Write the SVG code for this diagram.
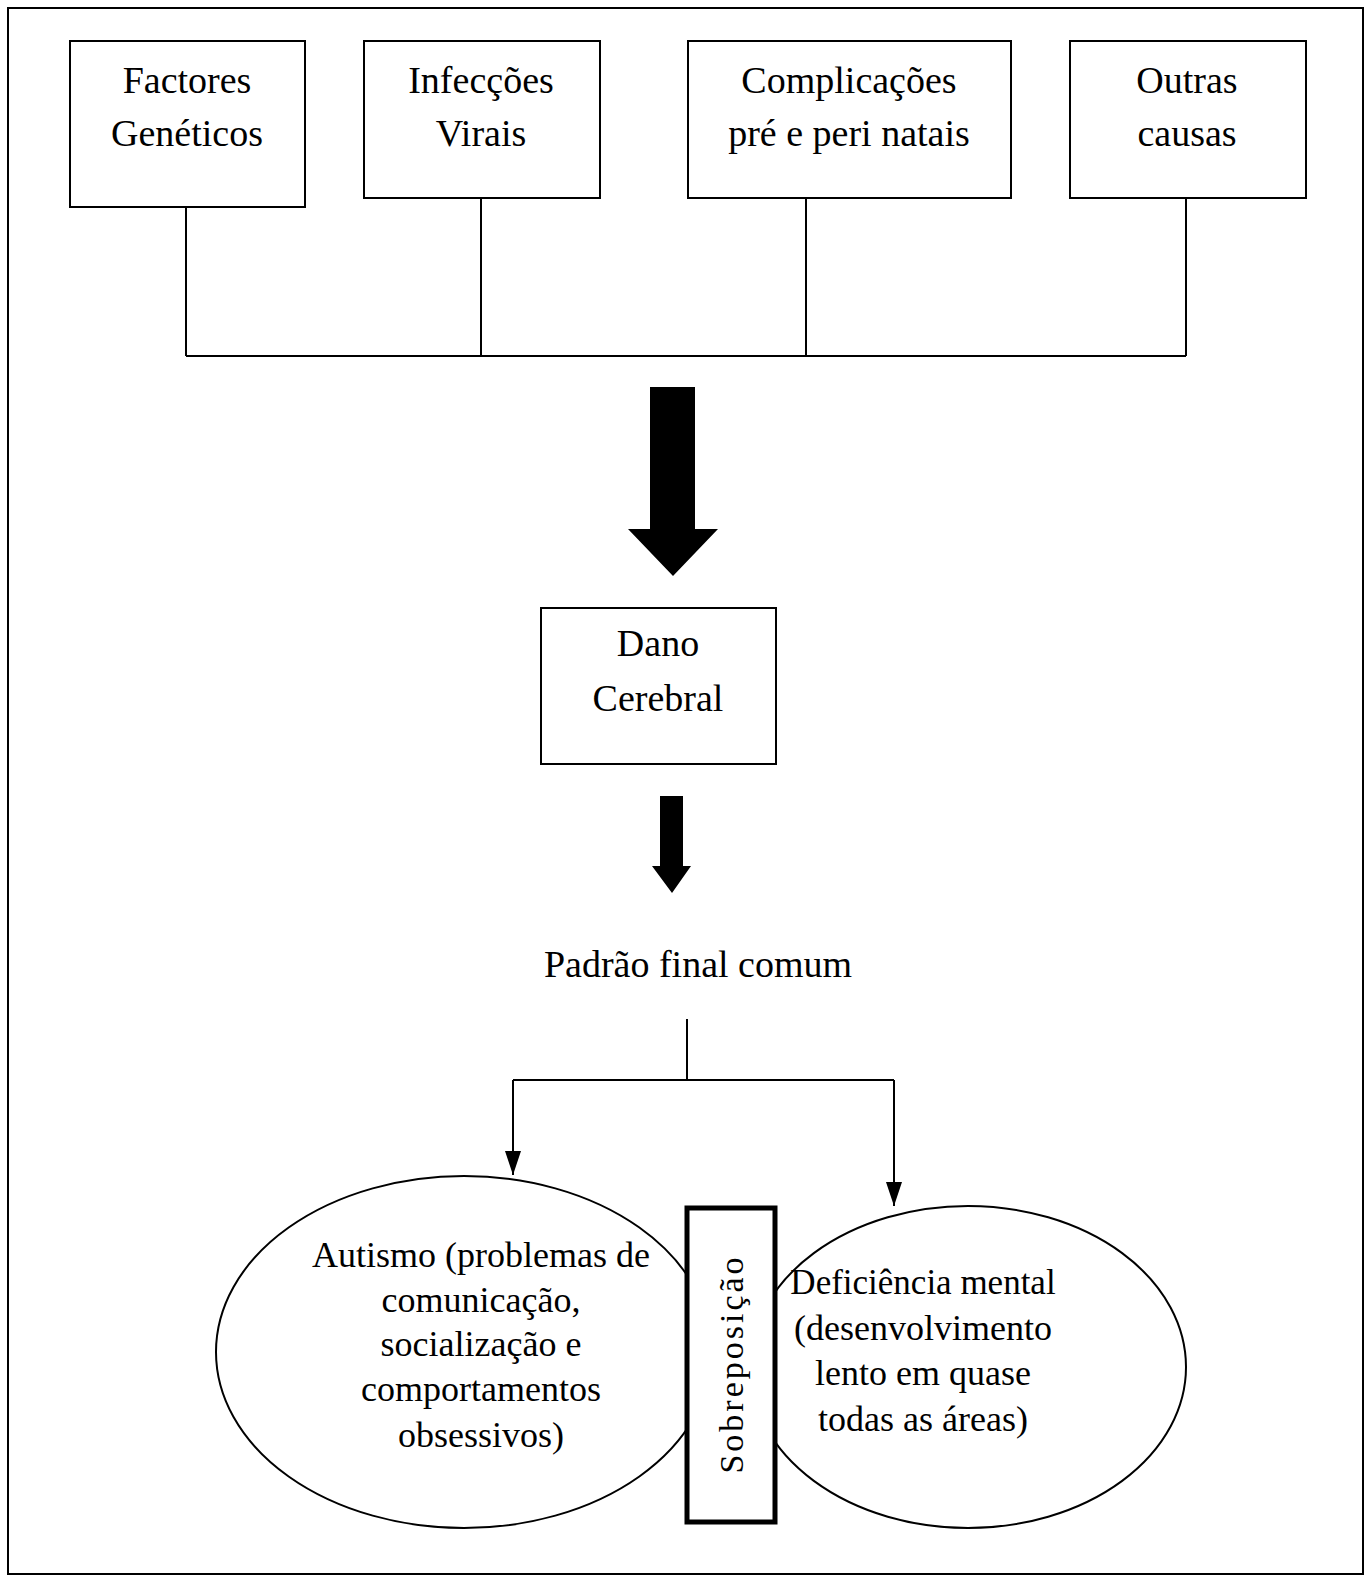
<svg xmlns="http://www.w3.org/2000/svg" width="1370" height="1580" viewBox="0 0 1370 1580">
<defs>
<style>
.box{fill:#fff;stroke:#000;stroke-width:2}
.t{font-family:"Liberation Serif","Times New Roman",serif;font-size:38px;fill:#000;text-anchor:middle}
.te{font-family:"Liberation Serif","Times New Roman",serif;font-size:36px;fill:#000;text-anchor:middle}
.ln{fill:none;stroke:#000;stroke-width:2}
.ell{fill:#fff;stroke:#000;stroke-width:2}
</style>
<marker id="ah" markerWidth="24" markerHeight="16" refX="24" refY="8" orient="auto" markerUnits="userSpaceOnUse" viewBox="0 0 24 16">
<path d="M0,0 L24,8 L0,16 Z" fill="#000"/>
</marker>
</defs>
<rect x="0" y="0" width="1370" height="1580" fill="#fff"/>
<rect x="8" y="8" width="1355" height="1566" fill="none" stroke="#000" stroke-width="2"/>

<g id="connectors">
<path class="ln" d="M186,208 V356 M481,198 V356 M806,198 V356 M1186,198 V356 M186,356 H1186"/>
<path d="M650,387 H695 V529 H718 L673,576 L628,529 H650 Z" fill="#000"/>
<path d="M660,796 H683 V866 H691 L672,893 L652,866 H660 Z" fill="#000"/>
<path class="ln" d="M687,1019 V1080 M513,1080 H894"/>
<path class="ln" d="M513,1080 V1175" marker-end="url(#ah)"/>
<path class="ln" d="M894,1080 V1206" marker-end="url(#ah)"/>
</g>

<g id="n-factores">
<rect class="box" x="70" y="41" width="235" height="166"/>
<text class="t" x="187" y="93">Factores</text>
<text class="t" x="187" y="146">Genéticos</text>
</g>
<g id="n-infeccoes">
<rect class="box" x="364" y="41" width="236" height="157"/>
<text class="t" x="481" y="93">Infecções</text>
<text class="t" x="481" y="146">Virais</text>
</g>
<g id="n-complicacoes">
<rect class="box" x="688" y="41" width="323" height="157"/>
<text class="t" x="849" y="93">Complicações</text>
<text class="t" x="849" y="146">pré e peri natais</text>
</g>
<g id="n-outras">
<rect class="box" x="1070" y="41" width="236" height="157"/>
<text class="t" x="1187" y="93">Outras</text>
<text class="t" x="1187" y="146">causas</text>
</g>
<g id="n-dano">
<rect class="box" x="541" y="608" width="235" height="156"/>
<text class="t" x="658" y="656">Dano</text>
<text class="t" x="658" y="711">Cerebral</text>
</g>
<g id="n-padrao">
<text class="t" x="698" y="977">Padrão final comum</text>
</g>
<g id="n-autismo">
<ellipse class="ell" cx="464" cy="1352" rx="248" ry="176"/>
<text class="te" x="481" y="1267">Autismo (problemas de</text>
<text class="te" x="481" y="1312">comunicação,</text>
<text class="te" x="481" y="1356">socialização e</text>
<text class="te" x="481" y="1401">comportamentos</text>
<text class="te" x="481" y="1447">obsessivos)</text>
</g>
<g id="n-deficiencia">
<ellipse class="ell" cx="968" cy="1367" rx="218" ry="161"/>
<text class="te" x="923" y="1294" style="font-size:35px">Deficiência mental</text>
<text class="te" x="923" y="1340">(desenvolvimento</text>
<text class="te" x="923" y="1385">lento em quase</text>
<text class="te" x="923" y="1431">todas as áreas)</text>
</g>
<g id="n-sobreposicao">
<rect x="687" y="1208" width="88" height="314" fill="#fff" stroke="#000" stroke-width="5"/>
<text class="t" transform="translate(743,1364) rotate(-90)" style="font-size:34px;letter-spacing:3px">Sobreposição</text>
</g>
</svg>
